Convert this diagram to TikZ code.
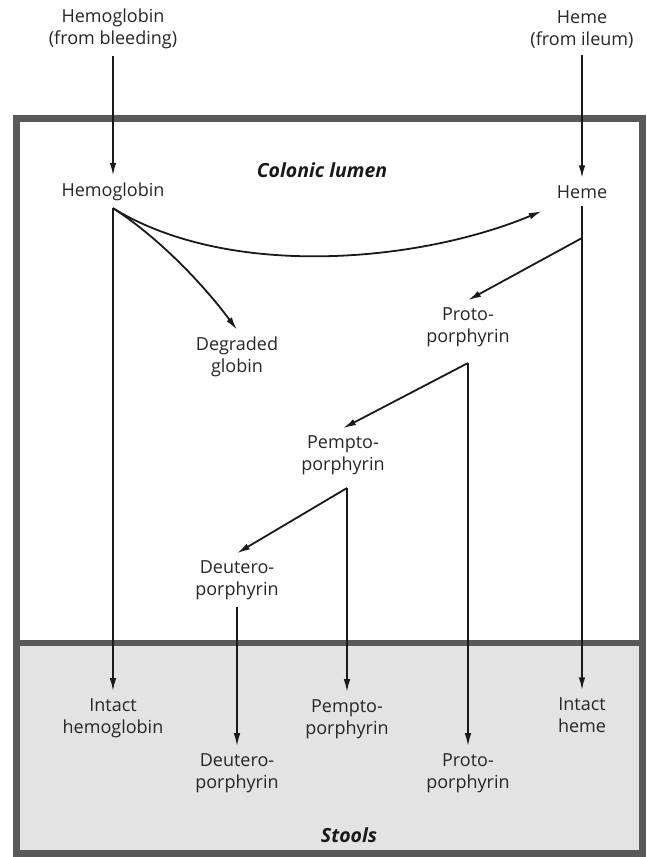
\documentclass[tikz,border=0pt]{standalone}
\usepackage{fontspec}
\setmainfont{Open Sans}
\usetikzlibrary{arrows.meta, positioning}

\tikzset{
  lbl/.style={align=center, inner xsep=2pt, inner ysep=7pt, text=black!85,
    font=\fontsize{18}{22}\selectfont},
  region/.style={text=black!90, font=\fontsize{19.5}{22}\selectfont\bfseries\itshape},
  flow/.style={line width=1.8pt, draw=black!90, -{Latex[length=13pt,width=6.5pt]}},
  wall/.style={line width=7pt, draw=black!65}
}

\begin{document}
\begin{tikzpicture}[x=1pt,y=-1pt]
\useasboundingbox (0,0) rectangle (647,857);

% colon and stools
\fill[gray!22] (16,643) rectangle (642,853);
\draw[wall] (16,118) rectangle (642,853);
\draw[wall, line width=6pt] (16,643) -- (642,643);
\node[region] (lumen) at (322,170) {Colonic lumen};
\node[region] (stools) at (349,835) {Stools};

% sources
\node[lbl] (hbsrc) at (113,29) {Hemoglobin\\(from bleeding)};
\node[lbl] (hemesrc) at (582,29) {Heme\\(from ileum)};

% in the lumen
\node[lbl] (hb) at (113,192) {Hemoglobin};
\node[lbl] (heme) at (582,192) {Heme};
\node[lbl] (globin) at (237,357) {Degraded\\globin};
\node[lbl] (proto) at (468,327) {Proto-\\porphyrin};
\node[lbl] (pempto) at (343,455) {Pempto-\\porphyrin};
\node[lbl] (deutero) at (237,580) {Deutero-\\porphyrin};
\coordinate (hemebr) at (582,238);
\coordinate (protobr) at (468,363);
\coordinate (pemptobr) at (347,488);

% in the stools
\node[lbl] (ihb) at (113,718) {Intact\\hemoglobin};
\node[lbl] (sdeutero) at (237,773) {Deutero-\\porphyrin};
\node[lbl] (spempto) at (347,719) {Pempto-\\porphyrin};
\node[lbl] (sproto) at (468,773) {Proto-\\porphyrin};
\node[lbl] (iheme) at (582,715) {Intact\\heme};

\draw[flow] (hbsrc) -- (hb);
\draw[flow] (hemesrc) -- (heme);
\draw[flow, shorten >=14pt] (hb.south) .. controls (230,280) and (420,262) .. (heme.south west);
\draw[flow] (hb.south) .. controls (155,235) and (200,280) .. (globin.north);
\draw[flow] (hemebr) -- (proto.north);
\draw[flow] (protobr) -- (pempto.north);
\draw[flow] (pemptobr) -- (deutero.north);
\foreach \a/\b in {hb.south/ihb, heme.south/iheme, protobr/sproto,
  pemptobr/spempto, deutero.south/sdeutero} {
  \draw[flow] (\a) -- (\b.north);
}
\end{tikzpicture}
\end{document}
